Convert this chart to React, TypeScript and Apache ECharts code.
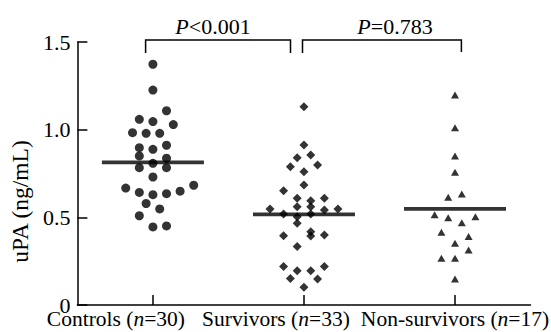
import React, { useEffect, useRef } from 'react';
import * as echarts from 'echarts';

// ---- data ----
const categories = ['Controls', 'Survivors', 'Non-survivors'];
const groupSizes = [30, 33, 17];
const yTickValues = [0, 0.5, 1.0, 1.5];

const controlsValues = [
  1.373, 1.226, 1.108, 1.059, 1.046, 1.029, 0.983, 0.979, 0.979, 0.897,
  0.888, 0.911, 0.85, 0.837, 0.783, 0.808, 0.783, 0.73, 0.667, 0.642,
  0.629, 0.635, 0.649, 0.683, 0.579, 0.548, 0.509, 0.445, 0.451,
];
const controlsSlots = [
  0, 0, 2, -2, 0, 3, -3, -1, 1, -2,
  0, 2, -2, 2, -2, 0, 2, 0, -4, -2,
  0, 2, 4, 6, -1, 1, -2, 0, 2,
];

const survivorsValues = [
  1.13, 0.913, 0.84, 0.856, 0.789, 0.799, 0.76, 0.685, 0.652, 0.609,
  0.595, 0.609, 0.548, 0.519, 0.561, 0.561, 0.542, 0.548, 0.504, 0.519,
  0.466, 0.395, 0.418, 0.394, 0.399, 0.333, 0.22, 0.196, 0.196, 0.22,
  0.151, 0.148, 0.101,
];
const survivorsSlots = [
  0, 0, -1, 1, -2, 2, 0, 0, -3, -1,
  1, 3, -5, -3, -1, 1, 3, 5, -1, 1,
  -1, -3, 1, 1, 3, -1, -3, -1, 1, 3,
  -2, 2, 0,
];

const nonSurvivorsValues = [
  1.198, 1.011, 0.85, 0.757, 0.614, 0.633, 0.515, 0.498, 0.504, 0.469,
  0.415, 0.39, 0.352, 0.314, 0.266, 0.266, 0.148,
];
const nonSurvivorsSlots = [
  0, 0, 0, 0, -1, 1, -3, -1, 3, 1,
  -2, 2, 0, 2, -2, 0, 0,
];

const groupMeans = [0.813, 0.517, 0.548];
const pComparisons = ['<0.001', '=0.783'];

// ---- style constants ----
const SLOT = 0.045; // horizontal spacing of a swarm slot, in category units
const FONT = 'Liberation Serif';

export default function App() {
  const ref = useRef<HTMLDivElement>(null);

  useEffect(() => {
    if (!ref.current) return;
    const chart = echarts.init(ref.current, null, { renderer: 'svg' });

    const toPoints = (vals: number[], slots: number[], g: number) =>
      vals.map((v, i) => [g + slots[i] * SLOT, v]);

    const labelRich: any = {
      t: { fontFamily: FONT, fontSize: 21.5, color: '#000' },
      i: { fontFamily: FONT, fontSize: 21.5, color: '#000', fontStyle: 'italic' },
      s0: { width: 74, fontSize: 21.5 },
      s1: { width: 56, fontSize: 21.5 },
    };

    const pRich: any = {
      i: { fontFamily: FONT, fontSize: 22, fontStyle: 'italic', fill: '#000' },
      t: { fontFamily: FONT, fontSize: 22, fill: '#000' },
    };

    const option: any = {
      animation: false,
      backgroundColor: '#fff',
      grid: { left: 71, right: 20, top: 42, bottom: 27, containLabel: false },
      xAxis: [
        {
          type: 'category',
          data: categories,
          boundaryGap: true,
          axisLine: { show: true, onZero: false, lineStyle: { color: '#000', width: 1.5 } },
          axisTick: { show: true, inside: true, length: 10, alignWithLabel: true, lineStyle: { color: '#000', width: 1.5 } },
          axisLabel: {
            margin: 3,
            interval: 0,
            formatter: (val: string, idx: number) => {
              const tail = idx < 2 ? `{s${idx}| }` : '';
              return `{t|${val} (}{i|n}{t|=${groupSizes[idx]})}${tail}`;
            },
            rich: labelRich,
          },
          splitLine: { show: false },
        },
        {
          type: 'value',
          min: -0.5,
          max: 2.5,
          show: false,
          axisLine: { onZero: false },
        },
      ],
      yAxis: {
        type: 'value',
        min: 0,
        max: 1.5,
        interval: 0.5,
        name: 'uPA (ng/mL)',
        nameLocation: 'middle',
        nameGap: 38,
        nameTextStyle: { fontFamily: FONT, fontSize: 23.5, color: '#000', padding: [0, 56, 0, 0] },
        axisLine: { show: true, onZero: false, lineStyle: { color: '#000', width: 1.5 } },
        axisTick: { show: true, inside: true, length: 10, lineStyle: { color: '#000', width: 1.5 } },
        axisLabel: {
          margin: 7,
          fontFamily: FONT,
          fontSize: 22,
          color: '#000',
          customValues: yTickValues,
          formatter: (v: number) => (v === 0 ? '0' : v.toFixed(1)),
        },
        splitLine: { show: false },
      },
      series: [
        {
          type: 'scatter',
          xAxisIndex: 1,
          symbol: 'circle',
          symbolSize: 9,
          itemStyle: { color: '#000' },
          data: toPoints(controlsValues, controlsSlots, 0),
        },
        {
          type: 'scatter',
          xAxisIndex: 1,
          symbol: 'diamond',
          symbolSize: 9,
          itemStyle: { color: '#000' },
          data: toPoints(survivorsValues, survivorsSlots, 1),
        },
        {
          type: 'scatter',
          xAxisIndex: 1,
          symbol: 'triangle',
          symbolSize: [8, 7],
          itemStyle: { color: '#000' },
          data: toPoints(nonSurvivorsValues, nonSurvivorsSlots, 2),
        },
        {
          type: 'scatter',
          xAxisIndex: 1,
          symbol: 'rect',
          symbolSize: [102, 3.8],
          itemStyle: { color: '#000' },
          z: 5,
          data: groupMeans.map((m, i) => [i, m]),
        },
      ],
      graphic: [
        {
          type: 'polyline',
          shape: { points: [[145.6, 53], [145.6, 40], [290.5, 40], [290.5, 53]] },
          style: { stroke: '#000', lineWidth: 1.5, fill: null },
        },
        {
          type: 'polyline',
          shape: { points: [[302.5, 53], [302.5, 40], [461.4, 40], [461.4, 52]] },
          style: { stroke: '#000', lineWidth: 1.5, fill: null },
        },
        {
          type: 'text',
          x: 213,
          y: 26,
          style: {
            text: `{i|P}{t|${pComparisons[0]}}`,
            align: 'center',
            verticalAlign: 'middle',
            rich: pRich,
          },
        },
        {
          type: 'text',
          x: 395,
          y: 26,
          style: {
            text: `{i|P}{t|${pComparisons[1]}}`,
            align: 'center',
            verticalAlign: 'middle',
            rich: pRich,
          },
        },
      ],
    };

    chart.setOption(option);
    return () => chart.dispose();
  }, []);

  return <div ref={ref} style={{ width: 551, height: 332, position: 'absolute', left: 0, top: 0 }} />;
}
